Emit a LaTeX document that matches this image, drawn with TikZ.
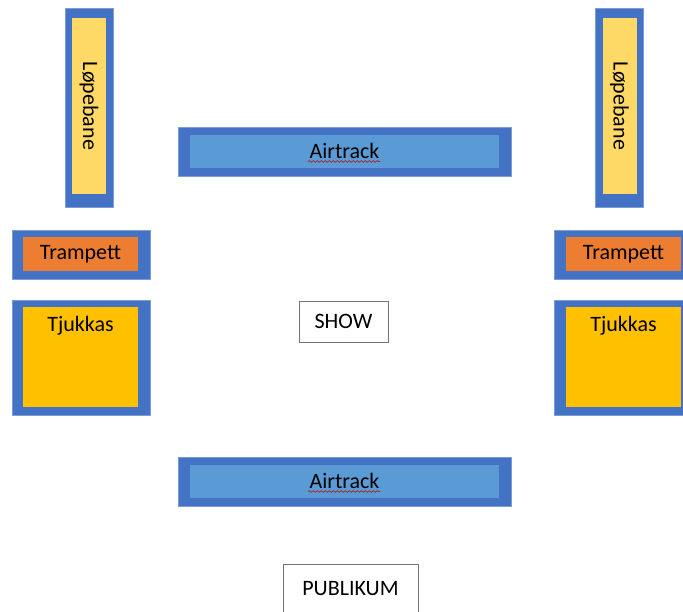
\documentclass[tikz,border=0pt]{standalone}
\usepackage{fontspec}
\setmainfont{Carlito}
\usetikzlibrary{positioning, decorations.pathmorphing}
\definecolor{frameblue}{HTML}{4472C4}
\definecolor{trackblue}{HTML}{5B9BD5}
\definecolor{laneyellow}{HTML}{FFD966}
\definecolor{tramporange}{HTML}{ED7D31}
\definecolor{matgold}{HTML}{FFC000}
\definecolor{spellred}{HTML}{A3262A}

\begin{document}
\begin{tikzpicture}[x=1pt, y=-1pt,
  every node/.style={font=\fontsize{22}{26}\selectfont},
  frame/.style={rectangle, fill=frameblue, draw=frameblue!70!white, line width=0.4pt, inner sep=0pt},
  lane/.style={rectangle, fill=laneyellow, inner sep=0pt, minimum width=34, minimum height=176},
  tramp/.style={rectangle, fill=tramporange, inner sep=0pt, minimum width=115, minimum height=34},
  mat/.style={rectangle, fill=matgold, inner sep=0pt, minimum width=115, minimum height=100},
  track/.style={rectangle, fill=trackblue, inner sep=0pt, minimum width=309, minimum height=33},
  label box/.style={rectangle, draw=black!55, line width=0.8pt, fill=white, inner sep=0pt},
  spell/.style={spellred, line width=0.7pt, decorate, decoration={snake, amplitude=0.9pt, segment length=4pt}}
]
  \useasboundingbox (0,0) rectangle (683,612);
  \clip (0,0) rectangle (683,612);

  % left side
  \node[frame, minimum width=48, minimum height=199] (laneL) at (89,107.5) {};
  \node[lane] (laneLin) at (89,106) {};
  \node[rotate=-90] (laneLtxt) at (laneLin) {Løpebane};
  \node[frame, minimum width=138, minimum height=49] (trampL) at (81,254.5) {};
  \node[tramp] (trampLin) at (80.5,254) {Trampett};
  \node[frame, minimum width=138, minimum height=115] (matL) at (81,357.5) {};
  \node[mat] (matLin) at (80.5,357) {};
  \node[below=9pt of matLin.north, inner sep=0pt] (matLtxt) {Tjukkas};

  % right side
  \node[frame, minimum width=48, minimum height=199] (laneR) at (619,107.5) {};
  \node[lane] (laneRin) at (619.5,106) {};
  \node[rotate=-90] (laneRtxt) at (laneRin) {Løpebane};
  \node[frame, minimum width=138, minimum height=49] (trampR) at (623,254.5) {};
  \node[tramp] (trampRin) at (623.5,254) {Trampett};
  \node[frame, minimum width=138, minimum height=115] (matR) at (623,357.5) {};
  \node[mat] (matRin) at (623.5,357) {};
  \node[below=9pt of matRin.north, inner sep=0pt] (matRtxt) {Tjukkas};

  % airtracks
  \node[frame, minimum width=333, minimum height=49] (trackT) at (344.5,151.5) {};
  \node[track] (trackTin) at (344.5,151.5) {\raisebox{1.5pt}{Airtrack}};
  \draw[spell] (308,161.5) -- (380,161.5);
  \node[frame, minimum width=333, minimum height=49] (trackB) at (344.5,481.5) {};
  \node[track] (trackBin) at (344.5,481.5) {\raisebox{1.5pt}{Airtrack}};
  \draw[spell] (308,491.5) -- (380,491.5);

  % labels
  \node[label box, minimum width=89, minimum height=41] (show) at (343.5,321.5) {SHOW};
  \node[label box, minimum width=135, minimum height=50] (publikum) at (350.5,589) {PUBLIKUM};
\end{tikzpicture}
\end{document}
